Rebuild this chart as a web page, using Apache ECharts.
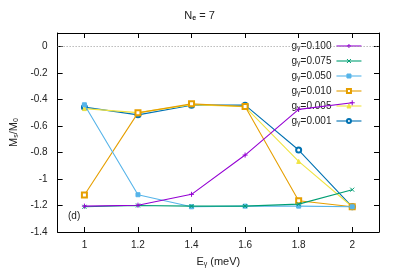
<!DOCTYPE html>
<html><head><meta charset="utf-8">
<script src="https://cdn.jsdelivr.net/npm/echarts@6/dist/echarts.min.js"></script>
<style>html,body{margin:0;padding:0;background:#fff}#c{width:399px;height:279px}</style>
</head><body><div id="c"></div>
<script>
const energies = [1, 1.2, 1.4, 1.6, 1.8, 2];
const xTicks = [1, 1.2, 1.4, 1.6, 1.8, 2];
const yTicks = [-1.4, -1.2, -1, -0.8, -0.6, -0.4, -0.2, 0];
const gNames = ['0.100', '0.075', '0.050', '0.010', '0.005', '0.001'];
const g0100 = [-1.205, -1.198, -1.116, -0.82, -0.476, -0.426];
const g0075 = [-1.21, -1.20, -1.205, -1.205, -1.19, -1.081];
const g0050 = [-0.441, -1.119, -1.21, -1.205, -1.205, -1.21];
const g0010 = [-1.121, -0.502, -0.434, -0.454, -1.164, -1.21];
const g0005 = [-0.47, -0.50, -0.44, -0.456, -0.868, -1.21];
const g0001 = [-0.459, -0.517, -0.444, -0.444, -0.782, -1.21];

const values = [g0100, g0075, g0050, g0010, g0005, g0001];
const colors = ['#9400d3', '#009e73', '#56b4e9', '#e69f00', '#f0e442', '#0072b2'];
const symbols = [
  'path://M0,5L10,5M5,0L5,10',
  'path://M0,0L10,10M10,0L0,10',
  'rect',
  'emptyRect',
  'triangle',
  'emptyCircle'
];
const symSizes = [5, 4, 4, 5, 4, 5];

const chart = echarts.init(document.getElementById('c'));
const font = 'Liberation Sans, Arial, sans-serif';
const series = gNames.map((n, i) => ({
  name: n,
  type: 'line',
  data: energies.map((x, j) => [x, values[i][j]]),
  symbol: symbols[i],
  symbolSize: symSizes[i],
  showAllSymbol: true,
  lineStyle: { color: colors[i], width: 1.1 },
  itemStyle: { color: colors[i], borderColor: colors[i], borderWidth: 1 },
  z: 10 - i,
  animation: false,
  markLine: i === 0 ? {
    silent: true, symbol: 'none', label: { show: false },
    lineStyle: { color: '#999', type: [1, 2], width: 1 },
    data: [{ yAxis: 0 }]
  } : undefined
}));

chart.setOption({
  animation: false,
  title: {
    text: '{a|N}{s|e}{a| = 7}', left: 'center', top: 5,
    textStyle: { rich: {
      a: { fontSize: 11, fontFamily: font, color: '#222', fontWeight: 'normal' },
      s: { fontSize: 7, fontFamily: font, color: '#222', verticalAlign: 'bottom', padding: [5, 0, 0, 0] }
    } }
  },
  grid: { left: 55, right: 20, top: 33, bottom: 47 },
  legend: {
    right: 32, top: 36, orient: 'vertical', align: 'right',
    itemWidth: 25, itemHeight: 5, itemGap: 4,
    data: gNames,
    itemStyle: { borderWidth: 1 },
    lineStyle: { width: 1.1 },
    formatter: n => '{a|g}{s|γ}{a|=' + n + '}',
    textStyle: { rich: {
      a: { fontSize: 10, fontFamily: font, color: '#222' },
      s: { fontSize: 7, fontFamily: font, color: '#222', verticalAlign: 'bottom', padding: [5, 0, 0, 0] }
    } }
  },
  xAxis: [{
    type: 'value', min: 0.9, max: 2.1,
    name: '{a|E}{s|γ}{a| (meV)}', nameLocation: 'middle', nameGap: 24,
    nameTextStyle: { rich: {
      a: { fontSize: 11, fontFamily: font, color: '#222' },
      s: { fontSize: 7, fontFamily: font, color: '#222', verticalAlign: 'bottom', padding: [5, 0, 0, 0] }
    } },
    axisLine: { show: true, onZero: false, lineStyle: { color: '#000', width: 1 } },
    axisTick: { show: true, inside: true, length: 5, customValues: xTicks, lineStyle: { color: '#000' } },
    axisLabel: { customValues: xTicks, fontSize: 10, fontFamily: font, color: '#222', margin: 8 },
    splitLine: { show: false }
  }, {
    type: 'value', min: 0.9, max: 2.1, position: 'top',
    axisLine: { show: true, onZero: false, lineStyle: { color: '#000', width: 1 } },
    axisTick: { show: true, inside: true, length: 5, customValues: xTicks, lineStyle: { color: '#000' } },
    axisLabel: { show: false },
    splitLine: { show: false }
  }],
  yAxis: [{
    type: 'value', min: -1.4, max: 0.1,
    name: '{a|M}{s|s}{a|/M}{s|0}', nameLocation: 'middle', nameGap: 36, nameRotate: 90,
    nameTextStyle: { rich: {
      a: { fontSize: 11, fontFamily: font, color: '#222' },
      s: { fontSize: 7, fontFamily: font, color: '#222', verticalAlign: 'bottom', padding: [5, 0, 0, 0] }
    } },
    axisLine: { show: true, onZero: false, lineStyle: { color: '#000', width: 1 } },
    axisTick: { show: true, inside: true, length: 5, customValues: yTicks, lineStyle: { color: '#000' } },
    axisLabel: { customValues: yTicks, fontSize: 10, fontFamily: font, color: '#222', margin: 10 },
    splitLine: { show: false }
  }, {
    type: 'value', min: -1.4, max: 0.1, position: 'right',
    axisLine: { show: true, onZero: false, lineStyle: { color: '#000', width: 1 } },
    axisTick: { show: true, inside: true, length: 5, customValues: yTicks, lineStyle: { color: '#000' } },
    axisLabel: { show: false },
    splitLine: { show: false }
  }],
  graphic: [{
    type: 'text', left: 68, top: 211,
    style: { text: '(d)', fontSize: 10, fontFamily: font, fill: '#222' }
  }],
  series: series
});
</script>
</body></html>
